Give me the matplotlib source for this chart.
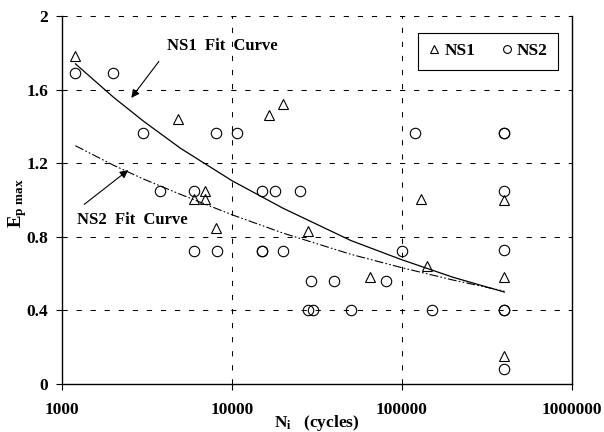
import matplotlib
matplotlib.use("Agg")
import matplotlib.pyplot as plt

plt.rcParams['font.family'] = ['Liberation Serif', 'DejaVu Serif']
plt.rcParams['font.weight'] = 'bold'
plt.rcParams['axes.labelweight'] = 'bold'
plt.rcParams['mathtext.fontset'] = 'custom'
plt.rcParams['mathtext.rm'] = 'Liberation Serif:bold'
plt.rcParams['mathtext.it'] = 'Liberation Serif:bold'
plt.rcParams['mathtext.bf'] = 'Liberation Serif:bold'

# NS1 test points (triangles)
ns1_N = [1200, 4800, 6000, 6900, 6900, 8000, 16500, 20000, 28000, 65000,
         130000, 140000, 400000, 400000, 400000]
ns1_E = [1.78, 1.44, 1.005, 1.05, 1.005, 0.85, 1.46, 1.52, 0.83, 0.58,
         1.005, 0.64, 1.0, 0.58, 0.15]

# NS2 test points (circles)
ns2_N = [1200, 2000, 3000, 8000, 10700, 3750, 6000, 15000, 18000, 25000,
         6000, 8200, 15000, 15000, 20000, 29000, 40000, 80000, 28000, 30000,
         50000, 150000, 100000, 120000, 400000, 400000, 400000, 400000, 400000,
         400000, 400000]
ns2_E = [1.69, 1.69, 1.366, 1.366, 1.366, 1.047, 1.047, 1.047, 1.047, 1.047,
         0.724, 0.724, 0.724, 0.724, 0.724, 0.56, 0.56, 0.56, 0.40, 0.40,
         0.40, 0.40, 0.724, 1.366, 1.366, 1.366, 1.05, 0.73, 0.40, 0.40,
         0.08]

# fit curves
fit_N = [1200, 2000, 3000, 5000, 10000, 20000, 50000, 100000, 200000, 400000]
fit1_E = [1.74, 1.56, 1.43, 1.28, 1.105, 0.955, 0.78, 0.675, 0.58, 0.50]
fit2_E = [1.295, 1.19, 1.115, 1.03, 0.92, 0.82, 0.705, 0.632, 0.565, 0.505]

fig = plt.figure(figsize=(6.04, 4.32), dpi=100)
ax = fig.add_axes([0.1026, 0.111, 0.8444, 0.852])

ax.plot(fit_N, fit1_E, color='k', lw=0.9)
ax.plot(fit_N, fit2_E, color='k', lw=0.8, dashes=(8, 2, 1.5, 2, 1.5, 2))

ax.plot(ns1_N, ns1_E, ls='none', marker='^', ms=7.5, mfc='none', mec='k',
        mew=0.8, label='NS1')
ax.plot(ns2_N, ns2_E, ls='none', marker='o', ms=7.5, mfc='none', mec='k',
        mew=0.8, label='NS2')

ax.set_xscale('log')
ax.set_xlim(1000, 1000000)
ax.set_ylim(0, 2)
ax.set_xticks([1000, 10000, 100000, 1000000])
ax.set_xticklabels(['1000', '10000', '100000', '1000000'])
ax.minorticks_off()
ax.set_yticks([0, 0.4, 0.8, 1.2, 1.6, 2])
ax.set_yticklabels(['0', '0.4', '0.8', '1.2', '1.6', '2'])
ax.tick_params(direction='out', length=4, width=0.8, labelsize=12.5, colors='k')
ax.tick_params(axis='x', pad=9)
ax.tick_params(axis='y', pad=6)

for y in [0.4, 0.8, 1.2, 1.6, 2.0]:
    ax.axhline(y, color='k', lw=0.75, dashes=(5, 8.5), zorder=0, clip_on=False)
for x in [10000, 100000]:
    ax.axvline(x, color='k', lw=0.75, dashes=(5, 8.5), zorder=0)

ax.spines['top'].set_visible(False)
for s in ['left', 'bottom', 'right']:
    ax.spines[s].set_linewidth(1.0)

ax.set_ylabel(r'$\mathrm{E}_{\mathrm{p\ max}}$', fontsize=13.5, va='center')
ax.yaxis.set_label_coords(-0.088, 0.49)
ax.set_xlabel(r'$\mathrm{N}_{\mathrm{i}}$   (cycles)', fontsize=12.5,
              fontweight='bold', va='center')
ax.xaxis.set_label_coords(0.5, -0.105)

ax.text(8800, 1.835, 'NS1  Fit  Curve', ha='center', va='center',
        fontsize=12, fontweight='bold')
ax.annotate('', xy=(2500, 1.543), xytext=(3800, 1.765),
            arrowprops=dict(arrowstyle='-|>', color='k', lw=0.8,
                            mutation_scale=12))
ax.text(2590, 0.893, 'NS2  Fit  Curve', ha='center', va='center',
        fontsize=12, fontweight='bold')
ax.annotate('', xy=(2527, 1.172), xytext=(1312, 0.967),
            arrowprops=dict(arrowstyle='-|>', color='k', lw=0.8,
                            mutation_scale=12))

leg = ax.legend(ncol=2, loc='upper right', bbox_to_anchor=(0.973, 0.954),
                fancybox=False, edgecolor='k', framealpha=1, fontsize=12.5,
                handlelength=0.6, handletextpad=0.3, columnspacing=1.5,
                markerscale=0.75, borderpad=0.6, borderaxespad=0)
leg.get_frame().set_linewidth(0.8)

fig.savefig('out.png', dpi=100)
